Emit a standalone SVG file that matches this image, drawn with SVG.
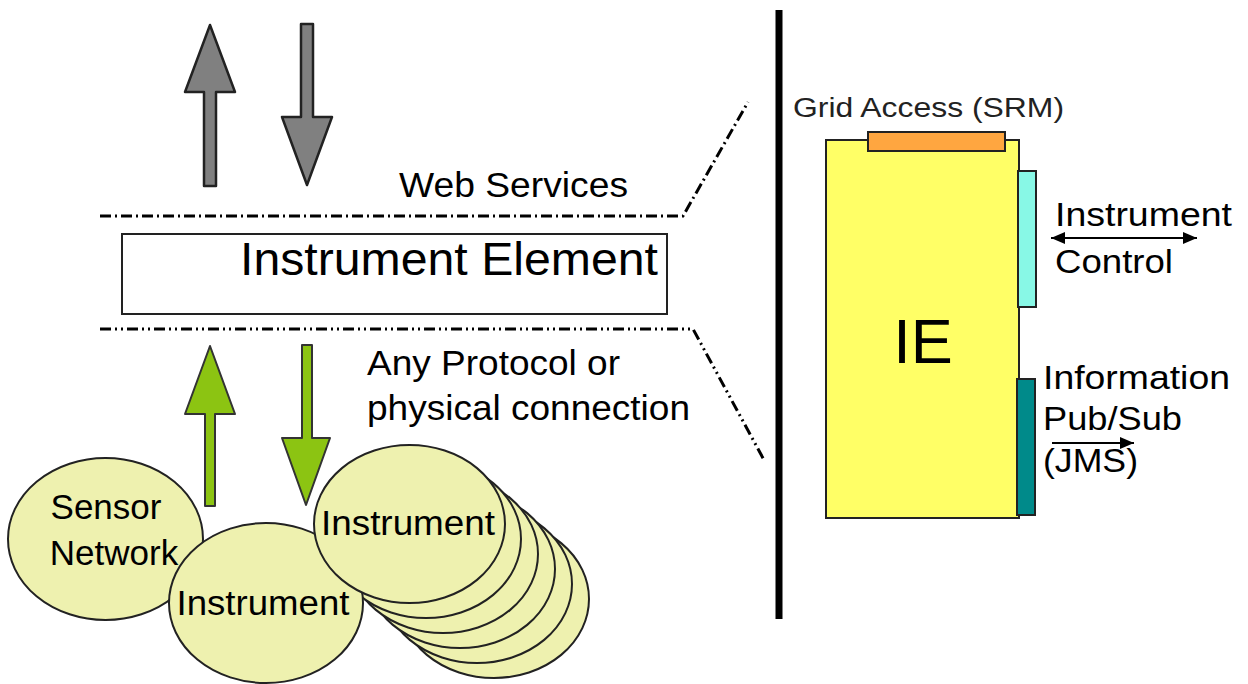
<svg xmlns="http://www.w3.org/2000/svg" width="1248" height="684" viewBox="0 0 1248 684">
<style>
text{font-family:"Liberation Sans",Arial,sans-serif;fill:#000}
.t35{font-size:35px}
.ell{fill:#eef1af;stroke:#222;stroke-width:2}
.garrow{fill:#808080;stroke:#222;stroke-width:2.5;stroke-linejoin:round}
.grarrow{fill:#8cc412;stroke:#333;stroke-width:2;stroke-linejoin:round}
.dd1{fill:none;stroke:#000;stroke-width:3;stroke-dasharray:11 4 2 4}
.dd2{fill:none;stroke:#000;stroke-width:3;stroke-dasharray:11 4 2 4 2 4}
.thin{stroke:#000;stroke-width:2;fill:none}
</style>
<defs>
<marker id="ah" viewBox="0 0 10 10" refX="10" refY="5" markerWidth="7" markerHeight="6" orient="auto-start-reverse" markerUnits="strokeWidth" preserveAspectRatio="none">
<path d="M0,0 L10,5 L0,10 Z" fill="#000"/>
</marker>
</defs>
<rect width="1248" height="684" fill="#fff"/>

<g id="connectors">
<path class="dd1" d="M100,216 L683,216 L748,102"/>
<path class="dd2" d="M100,329 L693,329 L764,460"/>
<line x1="779" y1="10" x2="779" y2="619" stroke="#000" stroke-width="7"/>
<path id="arrow-web-up" class="garrow" d="M204,186 L204,92 L185,92 L210,25 L235,92 L216,92 L216,186 Z"/>
<path id="arrow-web-down" class="garrow" d="M301,24 L313,24 L313,117 L332,117 L307,185 L282,117 L301,117 Z"/>
<path id="arrow-proto-up" class="grarrow" d="M205,506 L205,414 L185,414 L210,346 L235,414 L215,414 L215,506 Z"/>
<path id="arrow-proto-down" class="grarrow" d="M302,345 L312,345 L312,438 L330,438 L306,505 L282,438 L302,438 Z"/>
<line class="thin" x1="1051" y1="238" x2="1197" y2="238" marker-start="url(#ah)" marker-end="url(#ah)"/>
<line class="thin" x1="1052" y1="443" x2="1134" y2="443" marker-end="url(#ah)"/>
</g>

<g id="label-web-services"><text class="t35" x="399" y="197" textLength="229" lengthAdjust="spacingAndGlyphs">Web Services</text></g>
<g id="label-protocol">
<text class="t35" x="367" y="375" textLength="253" lengthAdjust="spacingAndGlyphs">Any Protocol or</text>
<text class="t35" x="367" y="420" textLength="323" lengthAdjust="spacingAndGlyphs">physical connection</text>
</g>

<g id="instrument-element">
<rect x="122" y="234" width="545" height="80" fill="#fff" stroke="#222" stroke-width="2"/>
<text x="240" y="275" font-size="46" textLength="418" lengthAdjust="spacingAndGlyphs">Instrument Element</text>
</g>

<g id="instrument-stack">
<ellipse class="ell" cx="494" cy="599" rx="95" ry="79"/>
<ellipse class="ell" cx="477" cy="584" rx="95" ry="79"/>
<ellipse class="ell" cx="460" cy="569" rx="95" ry="79"/>
<ellipse class="ell" cx="443" cy="554" rx="95" ry="79"/>
<ellipse class="ell" cx="426" cy="539" rx="95" ry="79"/>
</g>
<g id="sensor-network">
<ellipse class="ell" cx="105.5" cy="539" rx="97.5" ry="81"/>
<text class="t35" x="106" y="519" text-anchor="middle">Sensor</text>
<text class="t35" x="114" y="565" text-anchor="middle">Network</text>
</g>
<g id="instrument-lower">
<ellipse class="ell" cx="266" cy="603" rx="97" ry="80"/>
<text class="t35" x="263" y="615" text-anchor="middle" textLength="173" lengthAdjust="spacingAndGlyphs">Instrument</text>
</g>
<g id="instrument-front">
<ellipse class="ell" cx="409.5" cy="524" rx="95.5" ry="79"/>
<text class="t35" x="408" y="535" text-anchor="middle" textLength="174" lengthAdjust="spacingAndGlyphs">Instrument</text>
</g>

<g id="ie">
<rect x="826" y="140" width="193" height="378" fill="#ffff66" stroke="#222" stroke-width="2"/>
<text x="923" y="363" font-size="63" text-anchor="middle">IE</text>
</g>
<g id="grid-access">
<rect x="868" y="132" width="137" height="19" fill="#ffa640" stroke="#222" stroke-width="2"/>
<text x="793" y="117" font-size="27" style="fill:#222" textLength="271" lengthAdjust="spacingAndGlyphs">Grid Access (SRM)</text>
</g>
<g id="instrument-control">
<rect x="1018" y="171" width="18" height="136" fill="#88f8e6" stroke="#222" stroke-width="2"/>
<text x="1055" y="226" font-size="33" textLength="177" lengthAdjust="spacingAndGlyphs">Instrument</text>
<text x="1055" y="273" font-size="33" textLength="118" lengthAdjust="spacingAndGlyphs">Control</text>
</g>
<g id="information-pubsub">
<rect x="1017" y="379" width="18" height="136" fill="#008a8a" stroke="#222" stroke-width="2"/>
<text x="1043" y="389" font-size="33" textLength="187" lengthAdjust="spacingAndGlyphs">Information</text>
<text x="1043" y="430" font-size="33" textLength="139" lengthAdjust="spacingAndGlyphs">Pub/Sub</text>
<text x="1043" y="472" font-size="33" textLength="95" lengthAdjust="spacingAndGlyphs">(JMS)</text>
</g>
</svg>
